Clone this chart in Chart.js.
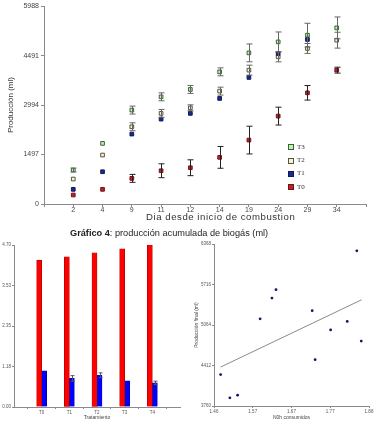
<!DOCTYPE html>
<html><head><meta charset="utf-8">
<script src="https://cdn.jsdelivr.net/npm/chart.js@4"></script>
<style>
body{margin:0;background:#fff;width:377px;height:430px;position:relative;overflow:hidden;font-family:"Liberation Sans",Arial,sans-serif}
canvas{position:absolute}
#c1{left:0;top:0}
#c2{left:0;top:240px}
#c3{left:190px;top:240px}
#title{position:absolute;left:70px;top:228px;font-size:9.2px;color:#222;white-space:nowrap}
#xtitle{position:absolute;left:146px;top:211px;font-size:9.6px;letter-spacing:0.55px;color:#333;white-space:nowrap;line-height:11px}
#legend{position:absolute;left:288px;top:143px;font-family:"Liberation Serif",serif;font-size:7px;color:#333}
#legend div{height:13.2px;line-height:8px;white-space:nowrap}
#legend span{display:inline-block;width:4px;height:4px;margin-right:3px;vertical-align:middle;border:1px solid}
</style></head>
<body>
<canvas id="c1" width="377" height="222"></canvas>
<div id="legend"></div>
<div id="xtitle">Dia desde inicio de combustion</div>
<div id="title"><b>Gráfico 4</b>: producción acumulada de biogás (ml)</div>
<canvas id="c2" width="190" height="190"></canvas>
<canvas id="c3" width="187" height="190"></canvas>
<script>
// ---------- Chart 1: cumulative production ----------
const days = ['2','4','9','11','12','14','19','24','29','34'];
const yTicksTop = [0, 1497, 2994, 4491, 5988];
const T3 = [1028, 1835, 2843, 3245, 3468, 4001, 4575, 4908, 5111, 5332];
const T2 = [756, 1482, 2338, 2743, 2912, 3417, 4052, 4454, 4709, 4959];
const T1 = [444, 977, 2117, 2570, 2743, 3196, 3831, 4557, 4981, null];
const T0 = [272, 444, 776, 1007, 1098, 1412, 1935, 2661, 3366, 4052];
const T3err = [60, 0, 120, 120, 120, 120, 270, 300, 360, 330];
const T2err = [0, 0, 120, 120, 90, 120, 150, 150, 150, 240];
const T0err = [0, 0, 120, 210, 240, 330, 420, 270, 220, 90];

// ---------- Chart 2: bars by treatment ----------
const treatments = ['T0','T1','T2','T3','T4'];
const redValues = [4.26, 4.36, 4.47, 4.59, 4.70];
const blueValues = [1.05, 0.83, 0.92, 0.76, 0.70];
const blueErr = [0, 0.08, 0.07, 0, 0.05];
const barYTicks = [0, 1.175, 2.35, 3.525, 4.70];
const barYLabels = ['0.00','1.18','2.35','3.53','4.70'];

// ---------- Chart 3: scatter ----------
const scatX = [1.847, 1.628, 1.617, 1.726, 1.585, 1.821, 1.776, 1.859, 1.734, 1.478, 1.524, 1.503];
const scatY = [6258, 5633, 5498, 5295, 5164, 5122, 4985, 4805, 4506, 4266, 3935, 3891];
const fitX = [1.478, 1.860];
const fitY = [4387, 5470];
const scatXTicks = [1.46, 1.565, 1.67, 1.775, 1.88];
const scatXLabels = ['1.46','1.57','1.67','1.77','1.88'];
const scatYTicks = [3760, 4412, 5064, 5716, 6368];

Chart.defaults.font.family = '"Liberation Sans", Arial, sans-serif';
Chart.defaults.color = '#444';

const errorBars = {
  id: 'errorBars',
  afterDatasetsDraw(chart) {
    const ctx = chart.ctx;
    chart.data.datasets.forEach((ds, i) => {
      if (!ds.errors) return;
      const meta = chart.getDatasetMeta(i);
      const ys = chart.scales[meta.yAxisID];
      meta.data.forEach((el, j) => {
        const v = ds.data[j], e = ds.errors[j];
        if (v == null || !e) return;
        const x = Math.round(el.x) + 0.5;
        const y1 = ys.getPixelForValue(v + e), y2 = ys.getPixelForValue(v - e);
        const cw = ds.capWidth || 2;
        ctx.save();
        ctx.strokeStyle = ds.errorColor || '#333';
        ctx.lineWidth = 1;
        ctx.beginPath();
        ctx.moveTo(x, y1); ctx.lineTo(x, y2);
        ctx.moveTo(x - cw, y1); ctx.lineTo(x + cw, y1);
        ctx.moveTo(x - cw, y2); ctx.lineTo(x + cw, y2);
        ctx.stroke();
        ctx.restore();
      });
    });
  }
};

const pad = arr => [null, ...arr, null];
const axisGrey = '#8a8a8a';
const plain = v => String(v);

const series = [
  {label:'T3', data:T3, errors:T3err, bg:'#cfe8c4', bd:'#2f6b2a', ec:'#666'},
  {label:'T2', data:T2, errors:T2err, bg:'#f4f2dc', bd:'#555533', ec:'#666'},
  {label:'T1', data:T1, errors:null, bg:'#1c2a8c', bd:'#10185a', ec:'#333'},
  {label:'T0', data:T0, errors:T0err, bg:'#b3262a', bd:'#7a1015', ec:'#222'}
];

new Chart(document.getElementById('c1'), {
  type: 'line',
  data: {
    labels: ['', ...days, ''],
    datasets: series.map(s => ({
      label: s.label, data: pad(s.data), errors: s.errors ? pad(s.errors) : null,
      showLine: false, pointStyle: 'rect', pointRadius: 2.6, pointBorderWidth: 1,
      backgroundColor: s.bg, borderColor: s.bd, errorColor: s.ec, capWidth: 3
    })).reverse()
  },
  options: {
    responsive: false, animation: false, devicePixelRatio: 1,
    layout: {padding: {top: 2, right: 11, left: 0, bottom: 0}},
    plugins: {legend: {display: false}, tooltip: {enabled: false}},
    scales: {
      x: {
        type: 'category', offset: false,
        grid: {display: true, drawOnChartArea: false, tickLength: 3, color: axisGrey},
        border: {color: axisGrey},
        ticks: {font: {size: 7}, color: '#444', padding: -1, maxRotation: 0, autoSkip: false},
        afterFit(s) { s.height = 18; }
      },
      y: {
        min: 0, max: 5988,
        afterBuildTicks(s) { s.ticks = yTicksTop.map(v => ({value: v})); },
        grid: {display: true, drawOnChartArea: false, tickLength: 3, color: axisGrey},
        border: {color: axisGrey},
        ticks: {font: {size: 7}, color: '#444', padding: 2, callback: plain},
        title: {display: true, text: 'Producción (ml)', font: {size: 8}, color: '#333', padding: {top: 6, bottom: 0}},
        afterFit(s) { s.width = 44; }
      }
    }
  },
  plugins: [errorBars]
});

// legend
const lg = document.getElementById('legend');
series.forEach(s => {
  const d = document.createElement('div');
  d.innerHTML = '<span style="background:' + s.bg + ';border-color:' + s.bd + '"></span>' + s.label;
  lg.appendChild(d);
});

// bar chart
new Chart(document.getElementById('c2'), {
  type: 'bar',
  data: {
    labels: ['', ...treatments, ''],
    datasets: [
      {data: pad(redValues), backgroundColor: '#ff0000', borderColor: '#a00000', borderWidth: {left: 0.6, right: 0.6, top: 0.6, bottom: 0}, barThickness: 5},
      {data: pad(blueValues), errors: pad(blueErr), backgroundColor: '#0000ff', borderColor: '#00009a', borderWidth: {left: 0.6, right: 0.6, top: 0.6, bottom: 0}, barThickness: 5, errorColor: '#555', capWidth: 2}
    ]
  },
  options: {
    responsive: false, animation: false, devicePixelRatio: 1,
    layout: {padding: {top: 5, right: 10, left: 0, bottom: 0}},
    plugins: {legend: {display: false}, tooltip: {enabled: false}},
    scales: {
      x: {
        type: 'category', offset: false,
        grid: {display: true, drawOnChartArea: false, tickLength: 2, color: axisGrey},
        border: {color: axisGrey},
        ticks: {font: {size: 4.5}, color: '#555', padding: 1, maxRotation: 0, autoSkip: false},
        title: {display: true, text: 'Tratamiento', font: {size: 5}, color: '#444', padding: {top: 0, bottom: 9}},
        afterFit(s) { s.height = 23; }
      },
      y: {
        min: 0, max: 4.70,
        afterBuildTicks(s) { s.ticks = barYTicks.map(v => ({value: v})); },
        grid: {display: true, drawOnChartArea: false, tickLength: 2, color: axisGrey},
        border: {color: axisGrey},
        ticks: {font: {size: 4.5}, color: '#555', padding: 1, callback: (v, i) => barYLabels[i]},
        afterFit(s) { s.width = 14; }
      }
    }
  },
  plugins: [errorBars]
});

// scatter
new Chart(document.getElementById('c3'), {
  type: 'scatter',
  data: {
    datasets: [
      {data: scatX.map((x, i) => ({x, y: scatY[i]})), backgroundColor: '#14146e', borderColor: '#14146e', pointRadius: 1.4, pointBorderWidth: 0},
      {type: 'line', data: fitX.map((x, i) => ({x, y: fitY[i]})), borderColor: '#8a8a8a', borderWidth: 1, pointRadius: 0, showLine: true, fill: false}
    ]
  },
  options: {
    responsive: false, animation: false, devicePixelRatio: 1,
    layout: {padding: {top: 4, right: 8, left: 0, bottom: 0}},
    plugins: {legend: {display: false}, tooltip: {enabled: false}},
    scales: {
      x: {
        type: 'linear', min: 1.46, max: 1.88,
        afterBuildTicks(s) { s.ticks = scatXTicks.map(v => ({value: v})); },
        grid: {display: true, drawOnChartArea: false, tickLength: 2, color: axisGrey},
        border: {color: axisGrey},
        ticks: {font: {size: 4.5}, color: '#555', padding: 1, maxRotation: 0, callback: (v, i) => scatXLabels[i]},
        title: {display: true, text: 'N0h consumidos', font: {size: 5}, color: '#444', padding: {top: 0, bottom: 9}},
        afterFit(s) { s.height = 24; }
      },
      y: {
        min: 3760, max: 6368,
        afterBuildTicks(s) { s.ticks = scatYTicks.map(v => ({value: v})); },
        grid: {display: true, drawOnChartArea: false, tickLength: 2, color: axisGrey},
        border: {color: axisGrey},
        ticks: {font: {size: 4.5}, color: '#555', padding: 1, callback: plain},
        title: {display: true, text: 'Producción final (ml)', font: {size: 5}, color: '#444', padding: {top: 4, bottom: 0}},
        afterFit(s) { s.width = 24; }
      }
    }
  }
});
</script>
</body></html>
